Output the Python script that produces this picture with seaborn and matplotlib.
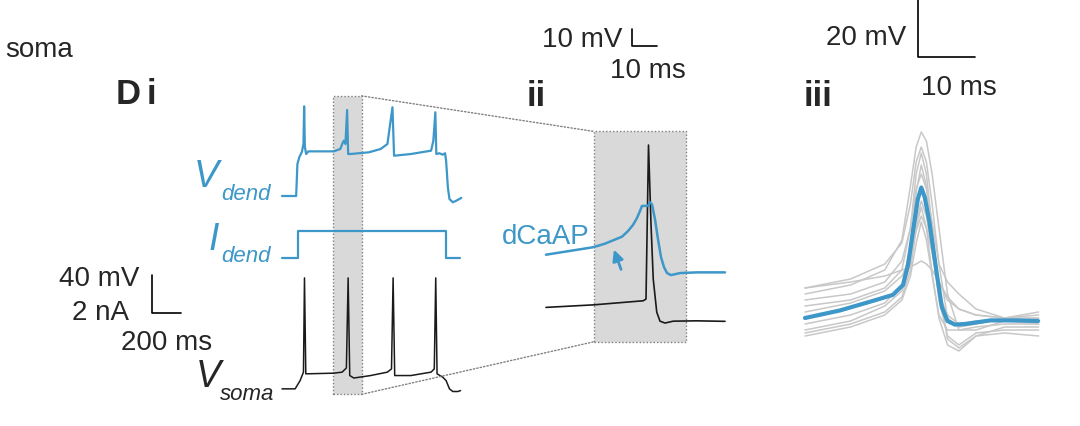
import numpy as np
import matplotlib.pyplot as plt
import seaborn as sns
from matplotlib.patches import Rectangle, ConnectionPatch

# ---- panel i: whole sweep (ms, mV, nA) ----
dend_t = [0, 97, 105.5, 119, 136, 147, 151.7, 156.6, 165.5, 181, 354, 400, 412, 423, 434.5,
          446, 453, 469, 595, 676, 722, 756.6, 767.6, 883, 1021, 1036.6, 1050.3, 1057,
          1078, 1101, 1117, 1124, 1136, 1147, 1170, 1193, 1228]
dend_mv = [-70, -70, -36.3, -29, -23.7, -15.3, 24.4, -18.4, -25.8, -23, -23, -20.5, -15.3, -11.8, -15.3,
           20.5, -25.8, -25.8, -24, -20.5, -15.3, 23.4, -27.6, -25.8, -22.3, -11.8, 18.1, -25.8,
           -25, -26.5, -25, -32.8, -60.8, -73.2, -76.6, -75, -72]

idend_t = [0, 108, 108, 1124, 1124, 1221]
idend_na = [0, 0, 1.4, 1.4, 0, 0]

soma_t = [0, 90, 124, 147, 154, 163, 354, 412, 441, 453, 464, 492, 607, 722, 750, 761, 772,
          883, 1021, 1043, 1053, 1062, 1101, 1124, 1147, 1170, 1205, 1223]
soma_mv = [-70, -70, -61.3, -52.4, 46.8, -54.2, -53.5, -52.4, -48, 46.8, -56, -58.6, -56, -52.4, -49, 46.8, -56,
           -56, -52.4, -49, 46.8, -54.2, -57.7, -61.3, -70, -72.8, -72.8, -71.8]

window_ms = [352, 545]

# ---- panel ii: zoom on the second spike (ms, mV) ----
zd_t = [0, 18.9, 23.6, 30.4, 32.8, 34.8, 36.4, 37.6, 38.4, 40.8, 41.6, 42.4, 43.6, 44.8,
        46, 47.2, 48.4, 50, 53.6, 60.3, 71.6]
zd_mv = [-50, -45.6, -43.5, -39.4, -36.1, -32.5, -28.4, -24.3, -21.3, -21.3, -19.2, -20.4, -29.2, -40.9,
         -51.4, -57.3, -60.8, -62, -60.8, -60.4, -60.4]
zs_t = [0, 19.1, 29.8, 38.9, 40, 41, 42, 42.9, 44.3, 45.6, 47.6, 50.9, 60.3, 71.6]
zs_mv = [-65, -63.5, -62.2, -61.1, -60.1, 30.5, -16, -48.4, -67.8, -73.1, -74.2, -73.1, -72.9, -73.2]
zoom_box_ms = [19.2, 56]

# ---- panel iii: single dCaAPs and their mean (ms, mV) ----
sweep_t = [0, 8, 14, 17, 18.5, 19.5, 20.4, 21.3, 22.3, 23.5, 25, 27, 30, 35, 41]
sweep1 = [-52, -49, -44, -34, -16, -3, 2, -1, -12, -30, -52, -64, -64, -61, -60]
sweep2 = [-50, -47, -42, -35, -22, -8, -3, -8, -22, -42, -60, -63, -62, -60, -58]
sweep3 = [-56, -54, -50, -44, -30, -12, -5, -12, -30, -50, -67, -70, -66, -63, -63]
sweep4 = [-62, -59, -55, -49, -36, -18, -9, -16, -34, -54, -66, -69, -65, -64, -64]
sweep5 = [-64, -61, -56, -51, -42, -28, -21, -26, -38, -52, -59, -62, -61, -61, -62]
sweep6 = [-65, -62, -58, -53, -44, -30, -23, -30, -45, -60, -69, -71, -66, -65, -66]
sweep7 = [-58, -55, -51, -46, -40, -31, -26, -30, -38, -48, -54, -57, -59, -60, -61]
sweep8 = [-66, -63, -59, -54, -46, -35, -28, -34, -46, -59, -64, -64, -63, -62, -62]
sweep9 = [-50, -48, -46, -44, -43, -42, -41, -42, -44, -48, -53, -57, -59, -60, -60]
sweep10 = [-54, -52, -48, -41, -30, -17, -12, -17, -28, -42, -48, -52, -57, -60, -59]
mean_t = [0, 6.1, 11.9, 15.4, 17.2, 18.1, 19.0, 19.8, 20.4, 21.0, 21.8, 22.5, 23.2, 24.0,
          25.0, 26.3, 28.1, 32.5, 36.8, 40.9]
mean_mv = [-60, -57.5, -54.3, -52.3, -49, -42, -30.3, -20.3, -16.5, -19.7, -27.7, -37, -46.3, -56.3,
           -61, -62.2, -62, -60.8, -60.8, -61]

BLUE = '#3d97c9'
GREY = '#c8c8c8'
SHADE = '#d9d9d9'
DOT = '#808080'

sns.set_style('white')
plt.rcParams['font.family'] = ['Liberation Sans', 'DejaVu Sans']
bold_fam = ['Liberation Sans Narrow', 'Liberation Sans', 'DejaVu Sans']

W, H = 1080, 427
fig = plt.figure(figsize=(W / 100, H / 100), dpi=100)


def panel(left, right, x0, sx, yref, vref, sy):
    # axes spanning full height, with ms/px and mV/px scales like the original
    ax = fig.add_axes([left / W, 0, (right - left) / W, 1])
    ax.set_xlim((left - x0) / sx, (right - x0) / sx)
    ax.set_ylim(vref - (H - yref) / sy, vref + yref / sy)
    ax.set_axis_off()
    return ax


def ftext(x, y, s, **kw):
    fig.text(x / W, 1 - y / H, s, va='baseline', **kw)


def trace(ax, t, v, off=0, **kw):
    sns.lineplot(x=t, y=np.asarray(v) + off, ax=ax, estimator=None, sort=False, **kw)


def scalebar(ax, x, y, dx, dy):
    ax.plot([x, x, x + dx], [y + dy, y, y], color='black', lw=1.2, clip_on=False)


# panel i
ax1 = panel(90, 480, 282, 0.146, 197, -70, 0.95)
soma_off, idend_off, na_scale = -203, -135, 20
shade_top = max(dend_mv) + 11
shade_bot = min(soma_mv) + soma_off - 3
ax1.add_patch(Rectangle((window_ms[0], shade_bot), window_ms[1] - window_ms[0], shade_top - shade_bot,
                        facecolor=SHADE, edgecolor=DOT, ls=(0, (1, 1.5)), lw=1, zorder=0))
trace(ax1, dend_t, dend_mv, color=BLUE, linewidth=1.6)
trace(ax1, idend_t, np.asarray(idend_na) * na_scale, off=idend_off, color=BLUE, linewidth=1.6)
trace(ax1, soma_t, soma_mv, off=soma_off, color='#1a1a1a', linewidth=1.1)
scalebar(ax1, -890, -193, 200, 40)

# panel ii
ax2 = panel(485, 760, 546, 2.5, 255.7, -50, 1.7)
zs_off = -16
box_top = max(zs_mv) + zs_off + 8
box_bot = min(zs_mv) + zs_off - 11
ax2.add_patch(Rectangle((zoom_box_ms[0], box_bot), zoom_box_ms[1] - zoom_box_ms[0], box_top - box_bot,
                        facecolor=SHADE, edgecolor=DOT, ls=(0, (1, 1.5)), lw=1, zorder=0))
trace(ax2, zs_t, zs_mv, off=zs_off, color='#1a1a1a', linewidth=1.2)
trace(ax2, zd_t, zd_mv, color=BLUE, linewidth=1.8)
ax2.annotate('', xy=(26.8, -45.5), xytext=(30.4, -60.2),
             arrowprops=dict(arrowstyle='-|>', color=BLUE, lw=2, mutation_scale=16))
scalebar(ax2, 34.4, 72.8, 10, 10)

for ya, yb in [(shade_top, box_top), (shade_bot, box_bot)]:
    con = ConnectionPatch(xyA=(window_ms[1], ya), coordsA=ax1.transData,
                          xyB=(zoom_box_ms[0], yb), coordsB=ax2.transData,
                          color=DOT, ls=(0, (1, 1.5)), lw=1)
    fig.add_artist(con)

# panel iii
ax3 = panel(785, 1075, 805, 5.7, 319, -60, 3.0)
for sw in [sweep1, sweep2, sweep3, sweep4, sweep5, sweep6, sweep7, sweep8, sweep9, sweep10]:
    trace(ax3, sweep_t, sw, color=GREY, linewidth=1.1)
trace(ax3, mean_t, mean_mv, color=BLUE, linewidth=3)
scalebar(ax3, 19.8, 27, 10, 20)

# labels
fs = 20
ftext(5, 57, 'soma', fontsize=fs)
ftext(116, 104, 'D', fontsize=25, weight='bold', family=bold_fam)
ftext(147, 104, 'i', fontsize=25, weight='bold', family=bold_fam)
ftext(527, 106, 'ii', fontsize=25, weight='bold', family=bold_fam)
ftext(804, 106, 'iii', fontsize=25, weight='bold', family=bold_fam)

ftext(194, 187, 'V', fontsize=27, style='italic', color=BLUE)
ftext(221, 200, 'dend', fontsize=16, style='italic', color=BLUE)
ftext(209, 250, 'I', fontsize=27, style='italic', color=BLUE)
ftext(221, 262, 'dend', fontsize=16, style='italic', color=BLUE)
ftext(196, 387, 'V', fontsize=27, style='italic')
ftext(220, 400, 'soma', fontsize=16, style='italic')

ftext(139, 286, '40 mV', fontsize=fs, ha='right')
ftext(129, 320, '2 nA', fontsize=fs, ha='right')
ftext(167, 350, '200 ms', fontsize=fs, ha='center')
ftext(622, 47, '10 mV', fontsize=fs, ha='right')
ftext(648, 78, '10 ms', fontsize=fs, ha='center')
ftext(906, 45, '20 mV', fontsize=fs, ha='right')
ftext(959, 95, '10 ms', fontsize=fs, ha='center')
ftext(590, 244, 'dCaAP', fontsize=fs, ha='right', color=BLUE)

fig.savefig('out.png', dpi=100, facecolor='white')
